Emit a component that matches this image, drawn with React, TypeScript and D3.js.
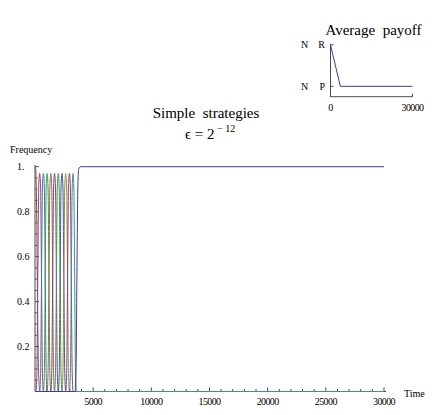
import React from "react";
import * as d3 from "d3";

// ---- data ----
const timeTicksMajor = [5000, 10000, 15000, 20000, 25000, 30000];
const timeTickLabels = ["5000", "10000", "15000", "20000", "25000", "30000"];
const freqTicksMajor = [0.2, 0.4, 0.6, 0.8, 1.0];
const freqTickLabels = ["0.2", "0.4", "0.6", "0.8", "1."];

// strategy frequency curves: [time, frequency]
const strategyCurves: [number, number][][] = [
  [[0, 1], [60, 0.99], [130, 0.85], [200, 0.5], [270, 0.18], [340, 0.04], [420, 0], [30000, 0]],
  [[0, 0], [80, 0], [160, 0.08], [240, 0.5], [320, 0.91], [400, 0.97], [480, 0.91], [560, 0.5], [640, 0.08], [720, 0], [30000, 0]],
  [[0, 0], [400, 0], [480, 0.08], [560, 0.5], [640, 0.91], [720, 0.97], [800, 0.91], [880, 0.5], [960, 0.08], [1040, 0], [30000, 0]],
  [[0, 0], [720, 0], [800, 0.08], [880, 0.5], [960, 0.91], [1040, 0.97], [1120, 0.91], [1200, 0.5], [1280, 0.08], [1360, 0], [30000, 0]],
  [[0, 0], [1040, 0], [1120, 0.08], [1200, 0.5], [1280, 0.91], [1360, 0.97], [1440, 0.91], [1520, 0.5], [1600, 0.08], [1680, 0], [30000, 0]],
  [[0, 0], [1360, 0], [1440, 0.08], [1520, 0.5], [1600, 0.91], [1680, 0.97], [1760, 0.91], [1840, 0.5], [1920, 0.08], [2000, 0], [30000, 0]],
  [[0, 0], [1680, 0], [1760, 0.08], [1840, 0.5], [1920, 0.91], [2000, 0.97], [2080, 0.91], [2160, 0.5], [2240, 0.08], [2320, 0], [30000, 0]],
  [[0, 0], [2000, 0], [2080, 0.08], [2160, 0.5], [2240, 0.91], [2320, 0.97], [2400, 0.91], [2480, 0.5], [2560, 0.08], [2640, 0], [30000, 0]],
  [[0, 0], [2320, 0], [2400, 0.08], [2480, 0.5], [2560, 0.91], [2640, 0.97], [2720, 0.91], [2800, 0.5], [2880, 0.08], [2960, 0], [30000, 0]],
  [[0, 0], [2640, 0], [2720, 0.08], [2800, 0.5], [2880, 0.91], [2960, 0.97], [3040, 0.91], [3120, 0.5], [3200, 0.08], [3280, 0], [30000, 0]],
  [[0, 0], [2960, 0], [3040, 0.08], [3120, 0.5], [3200, 0.91], [3270, 0.97], [3340, 0.91], [3410, 0.5], [3480, 0.08], [3560, 0], [30000, 0]],
  [[0, 0], [3450, 0], [3530, 0.1], [3600, 0.5], [3680, 0.9], [3760, 0.99], [3900, 1], [30000, 1]],
];

// inset: average payoff
const payoffTimes = [0, 3600, 30000];
const payoffValues = [3, 1, 1];
const payoffTickValues = [3, 1];
const payoffTickLabels = [["N", "R"], ["N", "P"]];
const payoffTimeTicks = [0, 30000];
const payoffTimeLabels = ["0", "30000"];

// ---- style ----
const seriesColors = [
  "#994E3D", "#993D90", "#3D7999", "#3D9956", "#996D3D", "#843D99",
  "#43993D", "#3D5A99", "#998B3D", "#993D71", "#3D8F99", "#3F3D99",
];
const axisColor = "#4a4a4a";
const font = "'Liberation Serif', 'Times New Roman', serif";

export default function App() {
  const x = d3.scaleLinear().domain([0, 30000]).range([35, 384]);
  const y = d3.scaleLinear().domain([0, 1]).range([391.5, 166.7]);

  const line = d3
    .line<[number, number]>()
    .x((d) => x(d[0]))
    .y((d) => y(d[1]))
    .curve(d3.curveMonotoneX);

  const minorX = d3.range(1000, 30001, 1000).filter((v) => v % 5000 !== 0);
  const minorY = d3.range(0.05, 1.0, 0.05).filter((v) => Math.abs(v * 5 - Math.round(v * 5)) > 1e-6);

  // inset scales
  const ix = d3.scaleLinear().domain([0, 30000]).range([330.5, 412.5]);
  const iy = d3.scaleLinear().domain([0.5, 3]).range([96.7, 44.8]);
  const payoffPts: [number, number][] = payoffTimes.map((t, i) => [t, payoffValues[i]]);
  const insetLine = d3
    .line<[number, number]>()
    .x((d) => ix(d[0]))
    .y((d) => iy(d[1]));

  return (
    <svg
      width={436}
      height={415}
      style={{ position: "absolute", left: 0, top: 0, background: "#fff" }}
      fontFamily={font}
    >
      <rect width={436} height={415} fill="#fff" />
      {/* Titles */}
      <text x={206} y={117.5} fontSize={15} textAnchor="middle" style={{ whiteSpace: "pre" }}>
        {"Simple  strategies"}
      </text>
      <text x={185} y={139} fontSize={15}>
        {"ϵ = 2"}
        <tspan dy={-7} fontSize={10} style={{ whiteSpace: "pre" }}>{" − 12"}</tspan>
      </text>

      {/* main axes */}
      <line x1={x(0)} x2={386} y1={y(0)} y2={y(0)} stroke={axisColor} strokeWidth={1} />
      <line x1={x(0)} x2={x(0)} y1={y(0)} y2={165} stroke={axisColor} strokeWidth={1} />
      {timeTicksMajor.map((t, i) => (
        <g key={"xt" + t}>
          <line x1={x(t)} x2={x(t)} y1={y(0)} y2={y(0) - 4} stroke={axisColor} />
          <text x={x(t)} y={y(0) + 13} fontSize={10} textAnchor="middle" letterSpacing={-0.6}>
            {timeTickLabels[i]}
          </text>
        </g>
      ))}
      {minorX.map((t) => (
        <line key={"xm" + t} x1={x(t)} x2={x(t)} y1={y(0)} y2={y(0) - 2.5} stroke={axisColor} />
      ))}
      {freqTicksMajor.map((v, i) => (
        <g key={"yt" + v}>
          <line x1={x(0)} x2={x(0) + 4} y1={y(v)} y2={y(v)} stroke={axisColor} />
          <text x={17} y={y(v) + 3.5} fontSize={10}>
            {freqTickLabels[i]}
          </text>
        </g>
      ))}
      {minorY.map((v) => (
        <line key={"ym" + v} x1={x(0)} x2={x(0) + 2.5} y1={y(v)} y2={y(v)} stroke={axisColor} />
      ))}
      <text x={10} y={153} fontSize={10}>Frequency</text>
      <text x={404} y={397} fontSize={10}>Time</text>

      {/* series */}
      {strategyCurves.map((pts, i) => (
        <path
          key={"s" + i}
          d={line(pts) || ""}
          fill="none"
          stroke={seriesColors[i % seriesColors.length]}
          strokeWidth={1}
        />
      ))}

      {/* inset */}
      <text x={373.5} y={34.5} fontSize={15} textAnchor="middle" style={{ whiteSpace: "pre" }}>
        {"Average  payoff"}
      </text>
      <line x1={ix(0)} x2={ix(30000)} y1={iy(0.5)} y2={iy(0.5)} stroke={axisColor} />
      <line x1={ix(0)} x2={ix(0)} y1={iy(0.5)} y2={iy(3) - 1} stroke={axisColor} />
      {payoffTickValues.map((v, i) => (
        <g key={"pt" + v}>
          <line x1={ix(0)} x2={ix(0) + 3} y1={iy(v)} y2={iy(v)} stroke={axisColor} />
          <text x={301} y={iy(v) + 3.5} fontSize={10}>
            {payoffTickLabels[i][0]}
          </text>
          <text x={325} y={iy(v) + 3.5} fontSize={10} textAnchor="end">
            {payoffTickLabels[i][1]}
          </text>
        </g>
      ))}
      {payoffTimeTicks.map((t, i) => (
        <g key={"px" + t}>
          <line x1={ix(t)} x2={ix(t)} y1={iy(0.5)} y2={iy(0.5) - 3} stroke={axisColor} />
          <text x={ix(t)} y={iy(0.5) + 14} fontSize={10} textAnchor="middle" letterSpacing={-0.6}>
            {payoffTimeLabels[i]}
          </text>
        </g>
      ))}
      <path d={insetLine(payoffPts) || ""} fill="none" stroke={seriesColors[11]} strokeWidth={1} />
    </svg>
  );
}
